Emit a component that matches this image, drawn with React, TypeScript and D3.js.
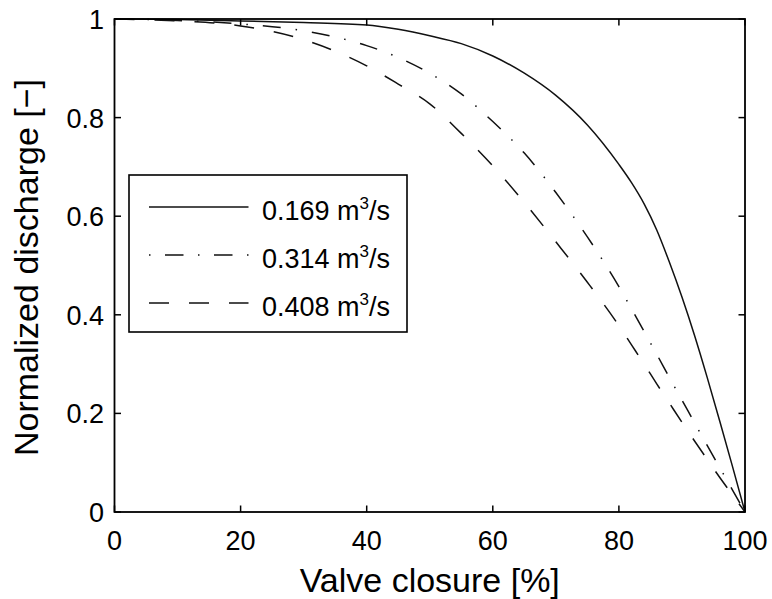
import React from "react";
import * as d3 from "d3";

const closure = [0, 10, 20, 30, 40, 45, 50, 55, 60, 65, 70, 75, 80, 82, 84, 86, 88, 90, 92, 94, 96, 98, 100];
const q169 = [1.0, 0.999, 0.996, 0.993, 0.988, 0.979, 0.966, 0.95, 0.925, 0.89, 0.845, 0.785, 0.705, 0.668, 0.625, 0.572, 0.507, 0.436, 0.358, 0.273, 0.184, 0.093, 0.0];
const q314 = [1.0, 0.997, 0.99, 0.976, 0.946, 0.922, 0.89, 0.848, 0.792, 0.728, 0.648, 0.558, 0.457, 0.412, 0.366, 0.32, 0.273, 0.227, 0.181, 0.135, 0.09, 0.045, 0.0];
const q408 = [1.0, 0.996, 0.986, 0.958, 0.905, 0.868, 0.828, 0.768, 0.702, 0.628, 0.548, 0.466, 0.378, 0.339, 0.3, 0.26, 0.221, 0.182, 0.144, 0.107, 0.07, 0.035, 0.0];

const seriesNames = ["0.169", "0.314", "0.408"];
const xTicks = [0, 20, 40, 60, 80, 100];
const yTicks = [0, 0.2, 0.4, 0.6, 0.8, 1];
const xLabel = "Valve closure [%]";
const yLabel = "Normalized discharge [\u2212]";

const W = 772;
const H = 599;
const L = 114.5, R = 745, T = 19, B = 512;

export default function App() {
  const x = d3.scaleLinear().domain([0, 100]).range([L, R]);
  const y = d3.scaleLinear().domain([0, 1]).range([B, T]);
  const series = [q169, q314, q408];
  const dashes = ["none", "18,15,1.5,15", "20,20"];
  const legendDashes = ["none", "1.5,14.5,18.5,14.5", "20,20"];
  const line = (vals: number[]) =>
    d3
      .line<number>()
      .x((_, i) => x(closure[i]))
      .y((d) => y(d))
      .curve(d3.curveMonotoneX)(vals) as string;

  const font = "'Liberation Sans', Arial, Helvetica, sans-serif";
  const tickLen = 6.5;
  const rows = [207, 255, 303];

  return (
    <svg
      width={W}
      height={H}
      style={{ position: "absolute", left: 0, top: 0, background: "#fff" }}
      fontFamily={font}
    >
      <rect x={0} y={0} width={W} height={H} fill="#fff" />
      {series.map((s, i) => (
        <path
          key={i}
          d={line(s)}
          fill="none"
          stroke="#111"
          strokeWidth={1.5}
          strokeDasharray={dashes[i]}
        />
      ))}
      {xTicks.map((t) => (
        <g key={"xt" + t}>
          <line x1={x(t)} x2={x(t)} y1={B} y2={B - tickLen} stroke="#000" strokeWidth={1.5} />
          <line x1={x(t)} x2={x(t)} y1={T} y2={T + tickLen} stroke="#000" strokeWidth={1.5} />
          <text x={x(t)} y={550} fontSize={27} textAnchor="middle" fill="#000">
            {t}
          </text>
        </g>
      ))}
      {yTicks.map((t) => (
        <g key={"yt" + t}>
          <line x1={L} x2={L + tickLen} y1={y(t)} y2={y(t)} stroke="#000" strokeWidth={1.5} />
          <line x1={R} x2={R - tickLen} y1={y(t)} y2={y(t)} stroke="#000" strokeWidth={1.5} />
          <text x={104} y={y(t) + 10} fontSize={27} textAnchor="end" fill="#000">
            {t === 0 || t === 1 ? String(t) : t.toFixed(1)}
          </text>
        </g>
      ))}
      <rect x={L} y={T} width={R - L} height={B - T} fill="none" stroke="#000" strokeWidth={1.8} />
      <text x={(L + R) / 2} y={592} fontSize={34} textAnchor="middle" fill="#000">
        {xLabel}
      </text>
      <text
        transform={`translate(38, ${(T + B) / 2 + 2}) rotate(-90)`}
        fontSize={34}
        textAnchor="middle"
        fill="#000"
      >
        {yLabel}
      </text>
      <rect x={129} y={175} width={278} height={157} fill="#fff" stroke="#000" strokeWidth={1.6} />
      {seriesNames.map((n, i) => (
        <g key={n}>
          <line
            x1={149}
            x2={248.5}
            y1={rows[i]}
            y2={rows[i]}
            stroke="#111"
            strokeWidth={1.5}
            strokeDasharray={legendDashes[i]}
          />
          <text x={262} y={rows[i] + 13} fontSize={27} fill="#000">
            {n} m
            <tspan fontSize={17} dy={-11}>3</tspan>
            <tspan dy={11}>/s</tspan>
          </text>
        </g>
      ))}
    </svg>
  );
}
